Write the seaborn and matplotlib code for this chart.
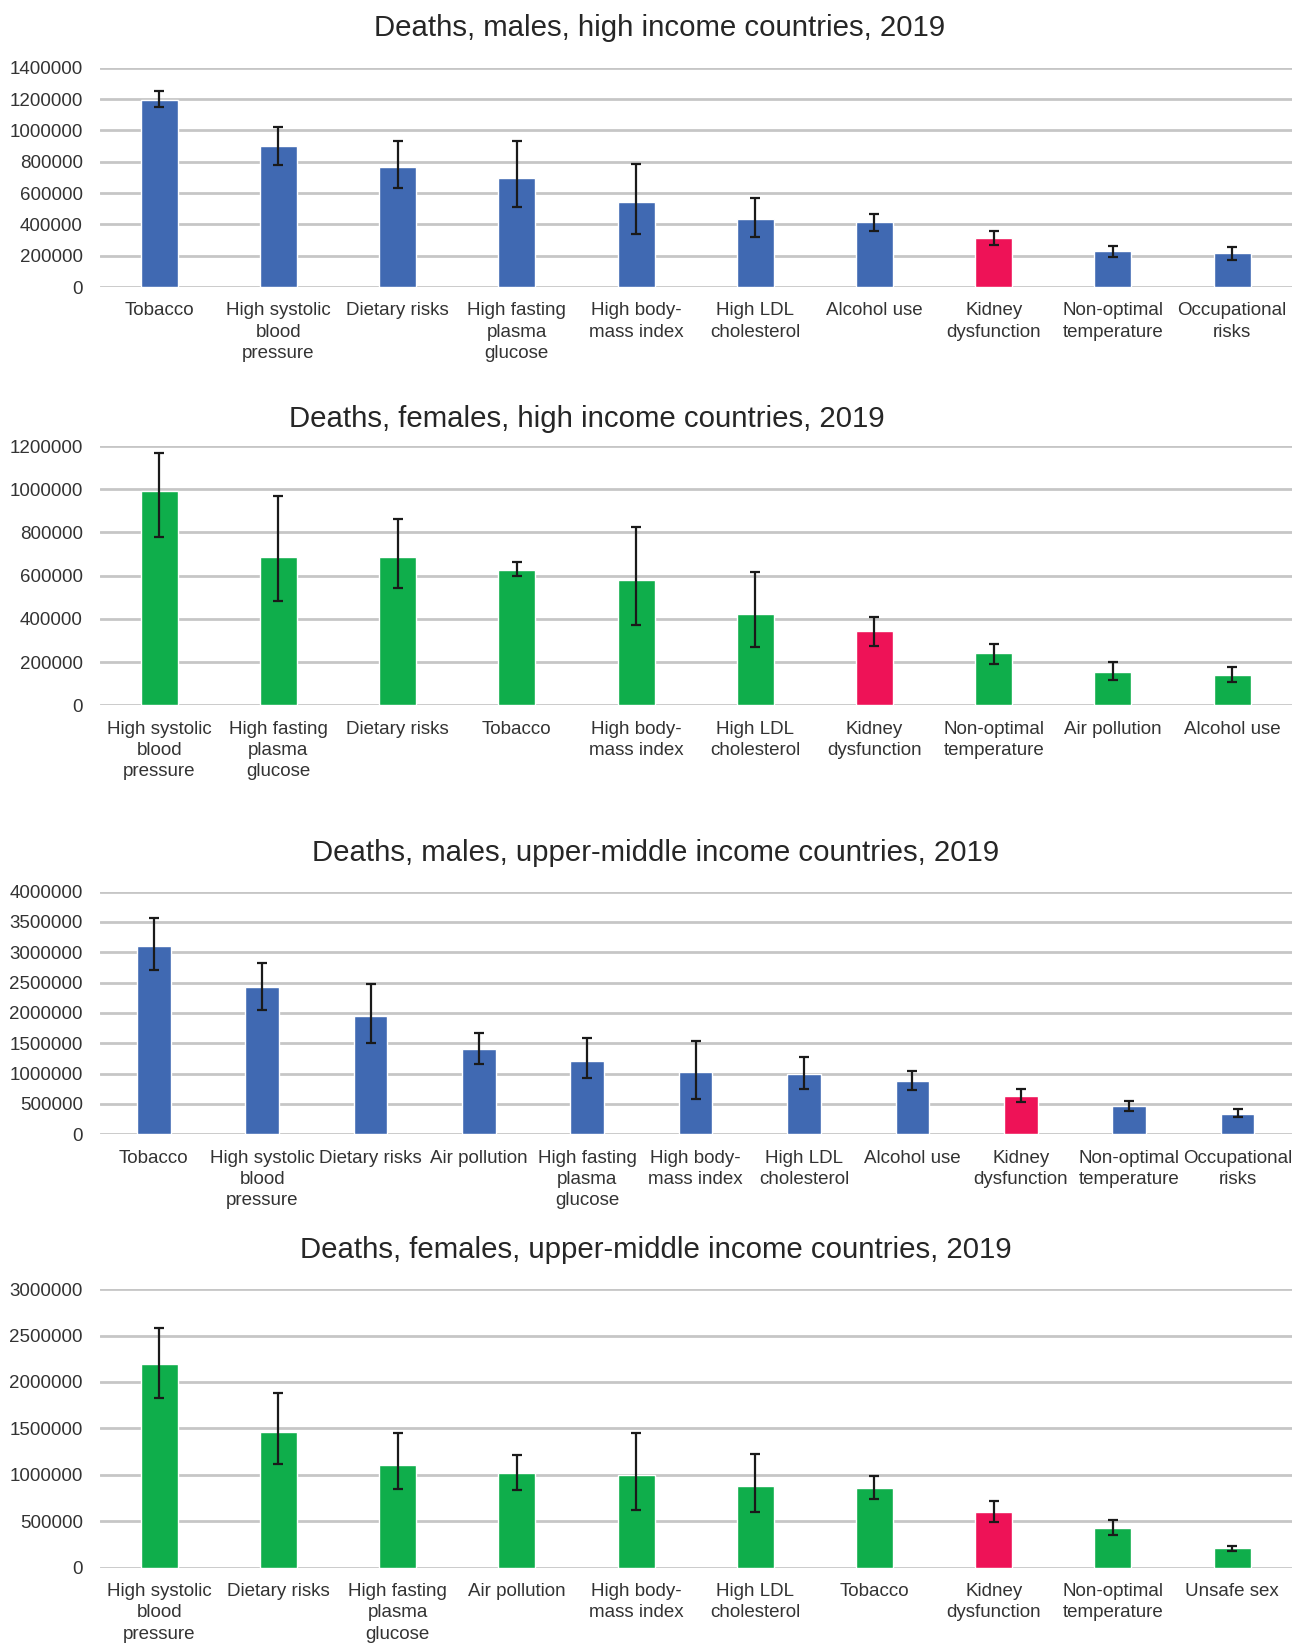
import numpy as np
import seaborn as sns
import matplotlib.pyplot as plt
from matplotlib.ticker import StrMethodFormatter

# ---- data ----
# males, high income
m_hi_cats = ["Tobacco", "High systolic\nblood\npressure", "Dietary risks", "High fasting\nplasma\nglucose",
             "High body-\nmass index", "High LDL\ncholesterol", "Alcohol use", "Kidney\ndysfunction",
             "Non-optimal\ntemperature", "Occupational\nrisks"]
m_hi_vals = [1196000, 902000, 768000, 696000, 545000, 434000, 413000, 313000, 228000, 215000]
m_hi_low = [1147000, 777000, 634000, 511000, 336000, 321000, 355000, 268000, 192000, 172000]
m_hi_high = [1251000, 1021000, 934000, 934000, 785000, 570000, 468000, 360000, 264000, 257000]

# females, high income
f_hi_cats = ["High systolic\nblood\npressure", "High fasting\nplasma\nglucose", "Dietary risks", "Tobacco",
             "High body-\nmass index", "High LDL\ncholesterol", "Kidney\ndysfunction",
             "Non-optimal\ntemperature", "Air pollution", "Alcohol use"]
f_hi_vals = [990000, 688000, 685000, 628000, 582000, 424000, 342000, 241000, 156000, 140000]
f_hi_low = [779000, 483000, 543000, 597000, 373000, 270000, 275000, 191000, 116000, 106000]
f_hi_high = [1168000, 967000, 862000, 663000, 827000, 615000, 407000, 285000, 202000, 179000]

# males, upper-middle income
m_um_cats = ["Tobacco", "High systolic\nblood\npressure", "Dietary risks", "Air pollution",
             "High fasting\nplasma\nglucose", "High body-\nmass index", "High LDL\ncholesterol",
             "Alcohol use", "Kidney\ndysfunction", "Non-optimal\ntemperature", "Occupational\nrisks"]
m_um_vals = [3104000, 2429000, 1945000, 1401000, 1203000, 1028000, 995000, 885000, 632000, 467000, 341000]
m_um_low = [2703000, 2050000, 1511000, 1159000, 934000, 588000, 747000, 736000, 528000, 390000, 280000]
m_um_high = [3566000, 2819000, 2484000, 1670000, 1582000, 1544000, 1269000, 1050000, 747000, 555000, 423000]

# females, upper-middle income
f_um_cats = ["High systolic\nblood\npressure", "Dietary risks", "High fasting\nplasma\nglucose", "Air pollution",
             "High body-\nmass index", "High LDL\ncholesterol", "Tobacco", "Kidney\ndysfunction",
             "Non-optimal\ntemperature", "Unsafe sex"]
f_um_vals = [2189000, 1457000, 1105000, 1016000, 998000, 879000, 861000, 599000, 427000, 212000]
f_um_low = [1823000, 1113000, 847000, 840000, 621000, 599000, 743000, 492000, 352000, 179000]
f_um_high = [2584000, 1881000, 1446000, 1217000, 1453000, 1224000, 987000, 718000, 517000, 233000]

titles = ["Deaths, males, high income countries, 2019",
          "Deaths, females, high income countries, 2019",
          "Deaths, males, upper-middle income countries, 2019",
          "Deaths, females, upper-middle income countries, 2019"]
y_max = [1400000, 1200000, 4000000, 3000000]
y_step = [200000, 200000, 500000, 500000]

BLUE = "#4069B2"
GREEN = "#0FAE4B"
RED = "#EE1257"
HIGHLIGHT = "Kidney\ndysfunction"

sns.set_style("white")
plt.rcParams["font.family"] = ["Liberation Sans", "DejaVu Sans"]

fig = plt.figure(figsize=(12.93, 16.43), dpi=100)

# axes rectangles [left, bottom, width, height] and title positions
rects = [[0.077, 0.8253, 0.922, 0.1335],
         [0.077, 0.5707, 0.922, 0.1578],
         [0.077, 0.3096, 0.922, 0.1477],
         [0.077, 0.0458, 0.922, 0.1696]]
title_xy = [(0.510, 0.9830), (0.454, 0.7450), (0.507, 0.4809), (0.507, 0.2392)]

panels = [(m_hi_cats, m_hi_vals, m_hi_low, m_hi_high, BLUE),
          (f_hi_cats, f_hi_vals, f_hi_low, f_hi_high, GREEN),
          (m_um_cats, m_um_vals, m_um_low, m_um_high, BLUE),
          (f_um_cats, f_um_vals, f_um_low, f_um_high, GREEN)]

for i, (cats, vals, low, high, base) in enumerate(panels):
    ax = fig.add_axes(rects[i])
    vals = np.array(vals)
    palette = {c: (RED if c == HIGHLIGHT else base) for c in cats}
    sns.barplot(x=cats, y=vals, hue=cats, palette=palette, legend=False,
                width=0.31, saturation=1, ax=ax, zorder=2)
    yerr = [vals - np.array(low), np.array(high) - vals]
    ax.errorbar(np.arange(len(cats)), vals, yerr=yerr, fmt="none", ecolor="#1a1a1a",
                elinewidth=1.6, capsize=3.5, capthick=1.6, zorder=3)

    ax.set_xlim(-0.5, len(cats) - 0.5)
    ax.set_ylim(0, y_max[i])
    ax.set_yticks(np.arange(0, y_max[i] + 1, y_step[i]))
    ax.yaxis.set_major_formatter(StrMethodFormatter("{x:.0f}"))
    ax.yaxis.grid(True, color="#c6c6c6", linewidth=2)
    ax.set_axisbelow(True)
    ax.tick_params(axis="both", length=0, labelsize=13.5, colors="#333333")
    ax.tick_params(axis="y", pad=12)
    ax.tick_params(axis="x", pad=11)
    for lbl in ax.get_xticklabels():
        lbl.set_linespacing(1.33)
    ax.set_xlabel("")
    ax.set_ylabel("")
    sns.despine(ax=ax, left=True, bottom=True)

    fig.text(title_xy[i][0], title_xy[i][1], titles[i], ha="center", va="center",
             fontsize=21.2, color="#262626")

fig.savefig("out.png", dpi=100)
